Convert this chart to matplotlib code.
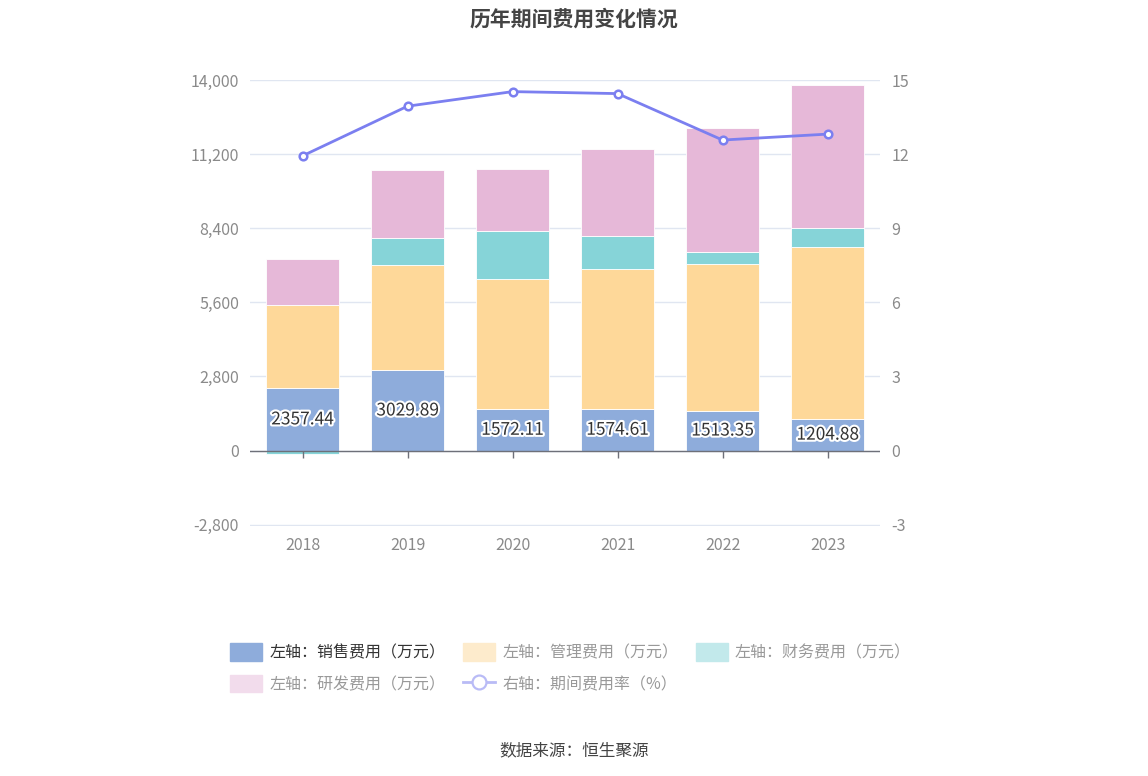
import numpy as np
import matplotlib
matplotlib.use("Agg")
import matplotlib.pyplot as plt
import matplotlib.patheffects as pe
from matplotlib.patches import FancyBboxPatch
from matplotlib.lines import Line2D

plt.rcParams['font.family'] = ['Noto Sans CJK SC', 'DejaVu Sans']
plt.rcParams['axes.unicode_minus'] = False

# data
years = ["2018", "2019", "2020", "2021", "2022", "2023"]
sales = [2357.44, 3029.89, 1572.11, 1574.61, 1513.35, 1204.88]
mgmt = [3141, 4000, 4905, 5279, 5529, 6477]
finance = [-130, 1017, 1807, 1253, 463, 715]
research = [1731, 2559, 2359, 3274, 4693, 5408]
rate = [11.93, 13.94, 14.53, 14.45, 12.57, 12.81]

left_ticks = [-2800, 0, 2800, 5600, 8400, 11200, 14000]
right_ticks = [-3, 0, 3, 6, 9, 12, 15]

c_sales = "#8eacdb"
c_mgmt = "#fed899"
c_fin = "#86d4d8"
c_res = "#e6b8d8"
c_line = "#7b7ff0"
grey = "#8a8a8a"

fig = plt.figure(figsize=(11.48, 7.76), dpi=100)
ax = fig.add_axes([0.2178, 0.3228, 0.5488, 0.5741])
x = np.arange(len(years))

# stacked bars, negatives stacked downward separately (like echarts)
pos_bottom = np.zeros(len(years))
neg_bottom = np.zeros(len(years))
for vals, col in [(sales, c_sales), (mgmt, c_mgmt), (finance, c_fin), (research, c_res)]:
    vals = np.array(vals, dtype=float)
    bottoms = np.where(vals >= 0, pos_bottom, neg_bottom)
    ax.bar(x, vals, bottom=bottoms, width=0.7, color=col, edgecolor="white", linewidth=0.6, zorder=3)
    pos_bottom = pos_bottom + np.where(vals >= 0, vals, 0)
    neg_bottom = neg_bottom + np.where(vals < 0, vals, 0)

for xi, v in zip(x, sales):
    ax.text(xi, v / 2, f"{v:.2f}", ha="center", va="center", fontsize=12.5, color="#333333", zorder=5,
            path_effects=[pe.withStroke(linewidth=3, foreground="white")])

ax.set_xlim(-0.5, len(years) - 0.5)
ax.set_ylim(-2830, 14000)
ax.set_yticks(left_ticks)
ax.set_yticklabels([f"{t:,}" for t in left_ticks])
ax.grid(axis="y", color="#e0e6f1", linewidth=1, zorder=0)
ax.set_axisbelow(True)
for s in ax.spines.values():
    s.set_visible(False)
ax.tick_params(axis="y", length=0, pad=8, labelsize=11.5, labelcolor=grey)
ax.set_xticks(x)
ax.set_xticklabels(years)
ax.tick_params(axis="x", length=0, pad=8, labelsize=11.5, labelcolor=grey)

# zero axis line with ticks
ax.axhline(0, color="#6e7079", linewidth=1, zorder=4)
ax.plot(x, np.zeros(len(x)), linestyle="none", marker=3, markersize=5, color="#6e7079", zorder=4)

ax2 = ax.twinx()
ax2.set_ylim(-3 - 30 / 933.33, 15)
ax2.set_yticks(right_ticks)
for s in ax2.spines.values():
    s.set_visible(False)
ax2.tick_params(axis="y", length=0, pad=8, labelsize=11.5, labelcolor=grey)
ax2.plot(x, rate, color=c_line, linewidth=2, marker="o", markersize=5.5,
         markerfacecolor="white", markeredgewidth=1.8, zorder=6)

fig.text(0.5, 0.975, "历年期间费用变化情况", ha="center", va="center", fontsize=15, fontweight="bold", color="#444444")
fig.text(0.5, 0.033, "数据来源：恒生聚源", ha="center", va="center", fontsize=12, color="#444444")

# legend
handles = [
    FancyBboxPatch((0, 0), 1, 1, color=c_sales),
    FancyBboxPatch((0, 0), 1, 1, color="#fdebcc"),
    FancyBboxPatch((0, 0), 1, 1, color="#c2e9eb"),
    FancyBboxPatch((0, 0), 1, 1, color="#f2dcec"),
    Line2D([0], [0], color="#b9bbf6", linewidth=2, marker="o", markersize=10,
           markerfacecolor="white", markeredgewidth=1.6),
]
labels = ["左轴：销售费用（万元）", "左轴：管理费用（万元）", "左轴：财务费用（万元）",
          "左轴：研发费用（万元）", "右轴：期间费用率（%）"]
order = [0, 3, 1, 4, 2]
leg = fig.legend([handles[i] for i in order], [labels[i] for i in order], ncol=3,
                 loc="center", bbox_to_anchor=(0.497, 0.139), frameon=False, fontsize=11.5,
                 handlelength=2.0, handleheight=1.3, columnspacing=1.1, labelspacing=0.85,
                 handletextpad=0.45)
for t in leg.get_texts():
    t.set_color("#999999")
leg.get_texts()[0].set_color("#333333")

fig.savefig("out.png", dpi=100)
